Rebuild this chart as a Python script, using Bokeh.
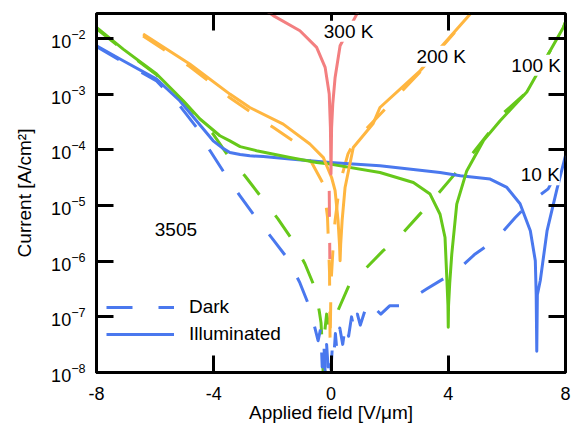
from bokeh.plotting import figure
from bokeh.models import FixedTicker, LinearAxis, LogAxis, Label, Legend, LegendItem, CustomJSTickFormatter
from bokeh.embed import file_html
from bokeh.resources import INLINE

# ---------------- data (field in V/um, current density in A/cm^2) ----------------
x_ticks = [-8, -4, 0, 4, 8]
y_ticks = [1e-8, 1e-7, 1e-6, 1e-5, 1e-4, 1e-3, 1e-2]

# 10 K illuminated
k10_light_x = [-8.0, -7.09, -5.95, -5.16, -4.59, -4.02, -3.70, -3.45, -3.10, -2.77, -2.31, -1.40, -0.03,
               1.67, 3.72, 4.41, 5.43, 6.00, 6.45, 6.80, 6.97, 7.00, 7.02, 7.04, 7.14, 7.37, 7.71, 8.0]
k10_light_y = [7.48e-3, 4.02e-3, 1.88e-3, 7.67e-4, 3.35e-4, 1.46e-4, 1.08e-4, 9.0e-5, 8.3e-5, 7.87e-5,
               7.6e-5, 6.85e-5, 5.96e-5, 5.2e-5, 3.94e-5, 3.44e-5, 3.0e-5, 2.12e-5, 1.08e-5, 3.52e-6,
               1.02e-6, 2.5e-7, 2.4e-8, 2.5e-7, 4.5e-7, 3.5e-6, 2.0e-5, 7.9e-5]
# 10 K dark
k10_dark_x = [-8.0, -7.09, -5.95, -5.16, -4.58, -4.13, -3.62, -3.11, -2.56, -2.02, -1.47, -1.06, -0.72,
              -0.44, -0.35, -0.30, -0.25, -0.20, -0.15, -0.10, -0.05, 0.0, 0.05, 0.10, 0.15, 0.20, 0.30,
              0.40, 0.50, 0.60, 0.70, 0.80, 0.90, 1.00, 1.15, 1.30, 1.50, 1.70, 2.00, 2.36, 3.26, 4.29,
              4.92, 5.60, 6.28, 6.80, 7.41, 8.0]
k10_dark_y = [7.24e-3, 3.8e-3, 1.74e-3, 6.24e-4, 2.51e-4, 9.77e-5, 3.72e-5, 1.51e-5, 6.03e-6, 2.63e-6,
              1.1e-6, 4.07e-7, 1.45e-7, 3.72e-8, 6.3e-8, 1.26e-8, 4.0e-8, 1.0e-8, 3.2e-8, 1.26e-8,
              2.5e-8, 1.12e-8, 3.2e-8, 2.0e-8, 5.0e-8, 2.5e-8, 6.3e-8, 3.2e-8, 7.9e-8, 4.5e-8, 1.0e-7,
              5.6e-8, 1.12e-7, 7.1e-8, 1.26e-7, 8.9e-8, 1.41e-7, 1.12e-7, 1.58e-7, 1.58e-7, 3.16e-7,
              6.76e-7, 1.35e-6, 2.4e-6, 6.03e-6, 1.15e-5, 2.0e-5, 7.9e-5]

# 100 K illuminated
k100_light_x = [-8.0, -7.09, -5.95, -5.04, -4.47, -3.79, -3.45, -3.10, -2.54, -1.40, -0.49, -0.03, 1.67,
                2.81, 3.38, 3.72, 3.89, 3.95, 3.99, 4.00, 4.01, 4.05, 4.12, 4.29, 4.63, 5.20, 5.77, 6.68,
                7.93, 8.0]
k100_light_y = [1.6e-2, 6.5e-3, 2.32e-3, 7.67e-4, 3.6e-4, 1.8e-4, 1.46e-4, 1.15e-4, 9.7e-5, 7.33e-5,
                5.96e-5, 5.57e-5, 3.94e-5, 2.6e-5, 1.61e-5, 7.0e-6, 2.67e-6, 5.1e-7, 1.6e-7, 6.5e-8,
                1.6e-7, 4.0e-7, 1.34e-6, 1.06e-5, 4.2e-5, 1.47e-4, 3.35e-4, 1.1e-3, 1.6e-2, 2.0e-2]
# 100 K dark
k100_dark_x = [-8.0, -7.09, -5.95, -5.04, -4.47, -4.02, -3.51, -2.94, -2.37, -1.81, -1.30, -0.89, -0.55,
               -0.40, -0.34, -0.30, -0.27, -0.22, -0.15, -0.05, 0.05, 0.20, 0.65, 1.16, 1.78, 2.42, 3.04,
               3.65, 4.23, 4.82, 5.43, 5.77, 6.68, 7.93, 8.0]
k100_dark_y = [1.51e-2, 6.3e-3, 2.24e-3, 7.4e-4, 3.47e-4, 1.93e-4, 7.87e-5, 3.44e-5, 1.4e-5, 5.79e-6,
               2.33e-6, 9.0e-7, 3.33e-7, 1.26e-7, 7.8e-8, 3.2e-8, 1.07e-8, 5.0e-8, 1.12e-7, 6.3e-8,
               1.12e-7, 1.17e-7, 4.07e-7, 7.2e-7, 1.55e-6, 3.1e-6, 7.1e-6, 1.62e-5, 3.72e-5, 8.5e-5,
               2.19e-4, 4.07e-4, 1.1e-3, 1.6e-2, 2.0e-2]

# 200 K illuminated
k200_light_x = [-6.41, -4.82, -3.45, -2.77, -1.63, -0.72, -0.26, 0.02, 0.14, 0.24, 0.29, 0.31, 0.33,
                0.38, 0.48, 0.76, 1.44, 1.67, 3.04, 4.75]
k200_light_y = [1.22e-2, 3.5e-3, 1.01e-3, 5.8e-4, 2.92e-4, 1.28e-4, 7.3e-5, 3.2e-5, 1.85e-5, 5.4e-6,
                2.0e-6, 1.02e-6, 2.0e-6, 5.4e-6, 2.12e-5, 1.11e-4, 3.0e-4, 5.8e-4, 2.65e-3, 2.78e-2]
# 200 K dark
k200_dark_x = [-6.41, -4.82, -3.45, -1.95, -1.30, -0.66, -0.26, -0.12, -0.05, -0.03, 0.0, 0.10, 0.14,
               0.30, 0.58, 0.82, 1.50, 3.00, 4.60]
k200_dark_y = [1.12e-2, 3.16e-3, 8.7e-4, 2.5e-4, 1.46e-4, 5.96e-5, 2.44e-5, 6.3e-6, 6.3e-7, 3.0e-8,
               4.0e-7, 3.2e-6, 5.4e-6, 2.5e-5, 8.5e-5, 1.46e-4, 3.5e-4, 2.4e-3, 2.2e-2]

# 300 K illuminated
k300_light_x = [-2.2, -1.97, -1.06, -0.49, -0.20, -0.06, -0.02, 0.0, 0.02, 0.06, 0.14, 0.31, 0.89, 1.0]
k300_light_y = [3.16e-2, 2.6e-2, 1.39e-2, 6.98e-3, 3.05e-3, 1.01e-3, 2.54e-4, 3.69e-5, 2.5e-4, 6.68e-4,
                2.01e-3, 7.48e-3, 2.82e-2, 3.5e-2]
# 300 K dark
k300_dark_x = [-0.06, -0.05, -0.04]
k300_dark_y = [1.84e-5, 5.0e-6, 1.1e-6]

# ---------------- styling ----------------
FONT = "Liberation Sans"
BLUE = "#4a78ee"
GREEN = "#66c81a"
ORANGE = "#ffb640"
PINK = "#f37f80"
DASH = "26 26"
X_MIN, X_MAX = -8, 8
Y_MIN, Y_MAX = 1e-8, 0.02838

p = figure(width=575, height=426, x_range=(X_MIN, X_MAX), y_range=(Y_MIN, Y_MAX),
           y_axis_type="log", output_backend="svg", toolbar_location=None,
           min_border_left=96, min_border_right=10, min_border_top=13, min_border_bottom=54)
p.background_fill_color = "white"
p.border_fill_color = "white"
p.outline_line_color = "black"
p.outline_line_width = 3
p.xgrid.visible = False
p.ygrid.visible = False

# dark curves (dashed)
r_g_d = p.line(k100_dark_x, k100_dark_y, line_color=GREEN, line_width=3, line_dash=DASH, line_join="round")
r_b_d = p.line(k10_dark_x, k10_dark_y, line_color=BLUE, line_width=3, line_dash=DASH, line_join="round")
r_o_d = p.line(k200_dark_x, k200_dark_y, line_color=ORANGE, line_width=3, line_dash=DASH, line_join="round")
r_p_d = p.line(k300_dark_x, k300_dark_y, line_color=PINK, line_width=3, line_dash=DASH, line_join="round")
# illuminated curves (solid)
r_b_l = p.line(k10_light_x, k10_light_y, line_color=BLUE, line_width=3, line_join="round")
r_g_l = p.line(k100_light_x, k100_light_y, line_color=GREEN, line_width=3, line_join="round")
r_o_l = p.line(k200_light_x, k200_light_y, line_color=ORANGE, line_width=3, line_join="round")
r_p_l = p.line(k300_light_x, k300_light_y, line_color=PINK, line_width=3, line_join="round")

def style_axis(ax):
    ax.axis_line_width = 3
    ax.axis_line_color = "black"
    ax.major_tick_line_width = 3
    ax.major_tick_line_color = "black"
    ax.major_tick_in = 17
    ax.major_tick_out = 0
    ax.minor_tick_line_color = None
    ax.minor_tick_in = 0
    ax.minor_tick_out = 0
    ax.major_label_text_font = FONT
    ax.major_label_text_color = "black"
    ax.major_label_text_font_size = "18px"

xa = p.xaxis[0]
xa.ticker = FixedTicker(ticks=x_ticks)
xa.formatter = CustomJSTickFormatter(code="return tick.toString()")
style_axis(xa)
xa.major_label_standoff = 14
xa.axis_label = "Applied field [V/μm]"
xa.axis_label_text_font = FONT
xa.axis_label_text_font_size = "19px"
xa.axis_label_text_font_style = "normal"
xa.axis_label_text_color = "black"
xa.axis_label_standoff = -1

ya = p.yaxis[0]
ya.ticker = FixedTicker(ticks=y_ticks)
style_axis(ya)
ya.major_label_standoff = 11
ya.axis_label = "Current [A/cm²]"
ya.axis_label_text_font = FONT
ya.axis_label_text_font_size = "19px"
ya.axis_label_text_font_style = "normal"
ya.axis_label_text_color = "black"
ya.axis_label_standoff = 13

# mirror ticks on top and right, pinned to the frame edges so they take no border space
top = LinearAxis(ticker=FixedTicker(ticks=x_ticks), formatter=CustomJSTickFormatter(code="return ''"),
                 fixed_location=Y_MAX)
style_axis(top)
top.major_label_text_font_size = "1px"
top.major_label_standoff = 0
p.add_layout(top, "above")
right = LogAxis(ticker=FixedTicker(ticks=y_ticks), formatter=CustomJSTickFormatter(code="return ''"),
                fixed_location=X_MAX)
style_axis(right)
right.major_label_text_font_size = "1px"
right.major_label_standoff = 0
p.add_layout(right, "right")

def tag(x, y, t, bg=True):
    lab = Label(x=x, y=y, text=t, text_align="center", text_baseline="middle",
                text_font=FONT, text_font_size="19px", text_color="black")
    if bg:
        lab.background_fill_color = "white"
    p.add_layout(lab)

tag(0.60, 1.36e-2, "300 K")
tag(3.76, 4.84e-3, "200 K")
tag(7.0, 3.33e-3, "100 K")
tag(7.14, 3.58e-5, "10 K")
tag(-5.29, 3.67e-6, "3505", bg=False)

legend = Legend(items=[LegendItem(label="Dark", renderers=[r_b_d]),
                       LegendItem(label="Illuminated", renderers=[r_b_l])],
                location=(10, 27), glyph_width=68, glyph_height=20, label_height=20,
                spacing=5, label_standoff=15, padding=0, margin=0,
                border_line_color=None, background_fill_alpha=0,
                label_text_font=FONT, label_text_font_size="19px", label_text_color="black")
p.add_layout(legend)

open("out.html", "w").write(file_html(p, INLINE))
